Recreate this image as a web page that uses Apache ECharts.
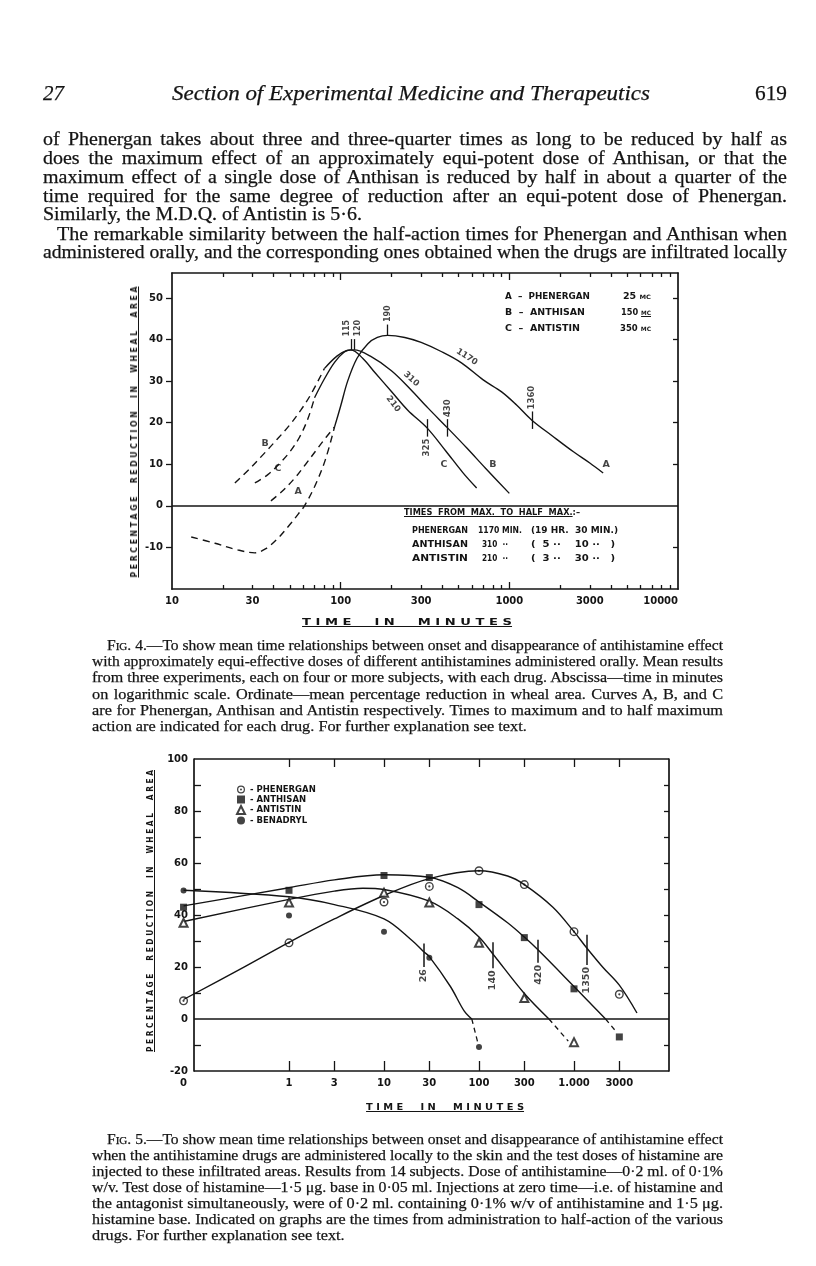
<!DOCTYPE html>
<html>
<head>
<meta charset="utf-8">
<title>Fig. 4 and Fig. 5 — antihistamine time relationships</title>
<script src="https://cdn.jsdelivr.net/npm/echarts@6/dist/echarts.min.js"></script>
<style>
  html, body { margin:0; padding:0; background:#fff; }
  #page { position:relative; width:816px; height:1266px; overflow:hidden; background:#fff; }
  #chart { position:absolute; left:0; top:0; width:816px; height:1266px; }
  .t { position:absolute; white-space:pre; color:#141414; }
  .serifbody { -webkit-text-stroke:0.25px #141414; }
  small { font-size:70%; }
</style>
</head>
<body>
<div id="page"><div id="chart"></div></div>
<script>
// ====================== DATA ======================
// Fig. 4 — oral doses. x: time in minutes (log scale), y: mean % reduction in wheal area
const fig4XTickLabels = [10, 30, 100, 300, 1000, 3000, 10000];
const fig4XMajorTicks = [100, 1000];
const fig4XMinorTicks = [20,30,40,50,60,70,80,90,200,300,400,500,600,700,800,900,2000,3000,4000,5000,6000,7000,8000,9000];
const fig4YTickLabels = [-10, 0, 10, 20, 30, 40, 50];
const fig4YRightTicks = [-10, 10, 20, 30, 40, 50];

// Curve A — Phenergan 25 mg
const phenerganOralRiseDashed = [[38.6,1.2],[45,3.5],[53,6.5],[62,10],[72,13.5],[82,16.5],[92,19]];
const phenerganOralDipDashed  = [[13,-7.5],[18,-9],[24,-10.5],[31,-11.3],[36,-10.3],[42,-8],[50,-4.5],[56,-2],[61,0],[70,4.6],[81,11],[92,19]];
const phenerganOralCurve = [[92,19],[100,24],[110,30],[125,35.5],[145,39],[165,40.5],[190,41],[240,40.5],[300,39.3],[400,37],[520,34.4],[700,30.3],[900,27.4],[1100,24.3],[1360,20.6],[1800,16.8],[2400,13],[3000,10.3],[3600,7.9]];
// Curve B — Anthisan 150 mg
const anthisanOralRiseDashed = [[23.6,5.5],[29,9],[35,12.5],[42,16],[50,19.5],[58,23],[67,27],[80,33]];
const anthisanOralCurve = [[80,33],[95,36],[108,37.3],[120,37.5],[150,36],[200,32.5],[260,28],[330,23.5],[430,18.75],[560,13.9],[720,9.1],[1000,3]];
// Curve C — Antistin 350 mg
const antistinOralRiseDashed = [[31,5.5],[37,7.5],[43,10],[50,13],[57,16.5],[64,21],[70,26]];
const antistinOralCurve = [[70,26],[80,30.5],[92,34.5],[105,37],[115,37.5],[135,35.5],[160,32],[200,27.5],[250,23],[325,18.75],[420,13.2],[530,8],[640,4.3]];

// times to maximum (C, B, A) and to half maximum (C, B, A)
const fig4MaxMinutes = [115, 120, 190];
const fig4MaxLevels  = [37.5, 37.5, 41];
const fig4HalfMinutes = [325, 430, 1360];
const fig4HalfLevels  = [18.75, 18.75, 20.6];
const fig4HalfSpanText = ['210', '310', '1170'];
const fig4HalfSpanAt   = [[205, 24.5], [262, 30.5], [560, 35.8]];
const fig4CurveLetters  = ['A', 'B', 'C', 'A', 'B', 'C'];
const fig4CurveLetterAt = [[3750, 10], [800, 10], [410, 10], [56, 3.4], [35.6, 15.1], [42.5, 8.9]];

// Fig. 5 — local infiltration. x: time in minutes (0, then log scale), y: % reduction
const fig5XTicks    = [1, 3, 10, 30, 100, 300, 1000, 3000];
const fig5XTickText = ['1', '3', '10', '30', '100', '300', '1.000', '3000'];
const fig5YTickLabels = [-20, 0, 20, 40, 60, 80, 100];
const fig5YTicks = [-10, 10, 20, 30, 40, 50, 60, 70, 80, 90];

const phenerganPoints = [[0,7],[1,29.3],[10,45],[30,51],[100,57],[300,51.7],[1000,33.6],[3000,9.5]];
const anthisanPoints  = [[0,43],[1,49.5],[10,55.2],[30,54.4],[100,44],[300,31.3],[1000,11.6],[3000,-6.9]];
const antistinPoints  = [[0,37],[1,44.8],[10,48.6],[30,44.8],[100,29.3],[300,8.1],[1000,-8.9]];
const benadrylPoints  = [[0,49.4],[1,39.8],[10,33.6],[30,23.6],[100,-10.8]];

const phenerganLocalCurve = [[0,7.5],[0.3,19],[1,29.5],[3,38.5],[10,47.5],[30,54],[100,57],[200,55],[300,51.7],[600,43],[1000,33.6],[1350,27.5],[2000,20],[3000,13],[4600,2.3]];
const anthisanLocalCurve  = [[0,43.5],[1,50.5],[3,53.5],[10,55.5],[30,54.5],[60,50.5],[100,45],[200,37],[300,31.5],[420,26.5],[1000,12.5],[2150,0]];
const anthisanLocalTail   = [[2150,0],[2800,-5]];
const antistinLocalCurve  = [[0,37.5],[1,46],[3,49.2],[6,50.3],[10,49.8],[30,45.3],[60,38.5],[100,31.5],[140,25],[300,9.8],[545,0]];
const antistinLocalTail   = [[545,0],[870,-8.5]];
const benadrylLocalCurve  = [[0,49.5],[1,47],[3,44],[10,38.5],[20,30],[26,26],[30,24],[50,12.5],[70,3],[84,0]];
const benadrylLocalTail   = [[84,0],[97,-9]];

// times from administration to half-action (Benadryl, Antistin, Anthisan, Phenergan)
const fig5HalfMinutes    = [26, 140, 420, 1350];
const fig5HalfTickTop    = [29, 29.5, 30.5, 32.4];
const fig5HalfTickBottom = [20, 19.5, 21.6, 20.8];

// ====================== HELPERS ======================
const INK = '#141414';
const SANS = '"DejaVu Sans", sans-serif';
const SERIF = '"Liberation Serif", "DejaVu Serif", serif';
const T0_POS = -1.11;        // log-position where time 0 is drawn on Fig. 5
const F5_LEFT = -1;          // log-position of Fig. 5's left frame (0.1 min)
const F5_RIGHT = 4;          // log-position of Fig. 5's right frame (10000 min)
const lg = t => Math.log10(t);
const pos5 = t => (t === 0 ? T0_POS : Math.log10(t));
const xy4 = a => a.map(([t, v]) => [lg(t), v]);
const xy5 = a => a.map(([t, v]) => [pos5(t), v]);

const solid = {color: INK, width: 1.4, type: 'solid'};
const dashed4 = {color: INK, width: 1.4, type: [7, 5]};
const dashed5 = {color: INK, width: 1.3, type: [5, 4]};

function curve(name, data, style, onFig5, extra) {
  return Object.assign({
    name, type: 'line', data, smooth: 0.35, showSymbol: false, symbol: 'none',
    lineStyle: style, silent: true, clip: false, animation: false,
    xAxisIndex: onFig5 ? 4 : 0, yAxisIndex: onFig5 ? 2 : 0, z: 3
  }, extra || {});
}
const labelBase = {show: true, color: INK, fontFamily: SANS, fontSize: 8.5, fontWeight: 'bold'};

// ---- Fig. 4 annotations ----
const fig4LabelData = [];
// label offsets are in the rotated text frame: [along text, across text]
fig4MaxMinutes.forEach((t, i) => fig4LabelData.push({
  value: [lg(t), fig4MaxLevels[i] + 3.2],
  label: Object.assign({}, labelBase, {formatter: String(t), rotate: 90, align: 'left', verticalAlign: 'middle',
    fontSize: 8, offset: [0, i === 0 ? -4 : (i === 1 ? 4 : 0)]})
}));
fig4HalfMinutes.forEach((t, i) => fig4LabelData.push({
  value: [lg(t), i === 0 ? fig4HalfLevels[i] - 2.6 : fig4HalfLevels[i] + 2.6],
  label: Object.assign({}, labelBase, {formatter: String(t), rotate: 90, align: i === 0 ? 'right' : 'left', verticalAlign: 'middle'})
}));
const spanRot = [-52, -42, -33];
fig4HalfSpanText.forEach((s, i) => fig4LabelData.push({
  value: [lg(fig4HalfSpanAt[i][0]), fig4HalfSpanAt[i][1]],
  label: Object.assign({}, labelBase, {formatter: s, rotate: spanRot[i], align: 'center', verticalAlign: 'middle'})
}));
fig4CurveLetters.forEach((c, i) => fig4LabelData.push({
  value: [lg(fig4CurveLetterAt[i][0]), fig4CurveLetterAt[i][1]],
  label: Object.assign({}, labelBase, {formatter: c, fontSize: 9.5, align: 'center', verticalAlign: 'middle'})
}));
const fig4TickLines = [];
fig4MaxMinutes.forEach((t, i) => fig4TickLines.push([{coord: [lg(t), fig4MaxLevels[i]]}, {coord: [lg(t), fig4MaxLevels[i] + 2.6]}]));
fig4HalfMinutes.forEach((t, i) => fig4TickLines.push([{coord: [lg(t), fig4HalfLevels[i] - 2.1]}, {coord: [lg(t), fig4HalfLevels[i] + 2.1]}]));

// ---- Fig. 5 annotations ----
const fig5LabelData = fig5HalfMinutes.map((t, i) => ({
  value: [lg(t), fig5HalfTickBottom[i] - 0.8],
  label: Object.assign({}, labelBase, {fontSize: 9.5, formatter: String(t), rotate: 90, align: 'right', verticalAlign: 'middle'})
}));
const fig5TickLines = fig5HalfMinutes.map((t, i) => [{coord: [lg(t), fig5HalfTickBottom[i]]}, {coord: [lg(t), fig5HalfTickTop[i]]}]);
const fig5Frame = [
  [{coord: [F5_LEFT, 100]}, {coord: [F5_RIGHT, 100]}],
  [{coord: [F5_LEFT, -20]}, {coord: [F5_RIGHT, -20]}],
  [{coord: [F5_LEFT, 0]}, {coord: [F5_RIGHT, 0]}]
];
const fig5XLabelPos = [T0_POS].concat(fig5XTicks.map(lg));
const fig5XLabelText = ['0'].concat(fig5XTickText);

const ringDot = 'path://M50,2A48,48,0,1,1,49.9,2Z M50,17A33,33,0,1,0,50.1,17Z M50,38A12,12,0,1,1,49.9,38Z';

// ====================== CHART ======================
const chart = echarts.init(document.getElementById('chart'), null, {renderer: 'canvas', width: 816, height: 1266});
const axisLineStyle = {color: INK, width: 1.7};
const tickStyle = {color: INK, width: 1.3};
const noSplit = {show: false};
const lineOn = {show: true, onZero: false, lineStyle: axisLineStyle};
const lineOff = {show: false, onZero: false};
const tickFont = {color: INK, fontFamily: SANS, fontWeight: 'bold'};

// Fig. 5 plot area: frame from x=194 to 669; time 0 is drawn a little left of the frame
const F5_FRAME_L = 194, F5_FRAME_R = 669;
const f5PxPerDecade = (F5_FRAME_R - F5_FRAME_L) / (F5_RIGHT - F5_LEFT);
const f5GridLeft = F5_FRAME_L - (F5_LEFT - T0_POS) * f5PxPerDecade;

const option = {
  animation: false,
  backgroundColor: 'transparent',
  textStyle: {fontFamily: SANS, color: INK},
  grid: [
    {left: 172, top: 273, width: 506, height: 316},
    {left: f5GridLeft, top: 759, width: F5_FRAME_R - f5GridLeft, height: 312}
  ],
  legend: {
    data: ['Phenergan', 'Anthisan', 'Antistin', 'Benadryl'],
    orient: 'vertical', left: 236, top: 785, padding: 0,
    itemWidth: 8, itemHeight: 8, itemGap: 1, selectedMode: false,
    textStyle: {fontFamily: SANS, fontSize: 8.5, fontWeight: 'bold', color: INK, lineHeight: 9},
    formatter: n => '- ' + n.toUpperCase()
  },
  xAxis: [
    {gridIndex: 0, type: 'value', min: 1, max: 4, position: 'bottom', splitLine: noSplit, axisLine: lineOn,
      axisTick: {show: true, inside: true, length: 7, customValues: fig4XMajorTicks.map(lg), lineStyle: tickStyle},
      axisLabel: Object.assign({show: true, customValues: fig4XTickLabels.map(lg), formatter: v => String(Math.round(Math.pow(10, v))),
        margin: 7, fontSize: 10, alignMaxLabel: 'right'}, tickFont)},
    {gridIndex: 0, type: 'value', min: 1, max: 4, position: 'bottom', splitLine: noSplit, axisLine: lineOff, axisLabel: {show: false},
      axisTick: {show: true, inside: true, length: 4, customValues: fig4XMinorTicks.map(lg), lineStyle: tickStyle}},
    {gridIndex: 0, type: 'value', min: 1, max: 4, position: 'top', splitLine: noSplit, axisLine: lineOn, axisLabel: {show: false},
      axisTick: {show: true, inside: true, length: 7, customValues: fig4XMajorTicks.map(lg), lineStyle: tickStyle}},
    {gridIndex: 0, type: 'value', min: 1, max: 4, position: 'top', splitLine: noSplit, axisLine: lineOff, axisLabel: {show: false},
      axisTick: {show: true, inside: true, length: 4, customValues: fig4XMinorTicks.map(lg), lineStyle: tickStyle}},
    {gridIndex: 1, type: 'value', min: T0_POS, max: F5_RIGHT, position: 'bottom', splitLine: noSplit, axisLine: lineOff,
      axisTick: {show: true, inside: true, length: 10, customValues: fig5XTicks.map(lg), lineStyle: tickStyle},
      axisLabel: Object.assign({show: true, customValues: fig5XLabelPos, margin: 7, fontSize: 10,
        formatter: v => { const i = fig5XLabelPos.findIndex(p => Math.abs(p - v) < 1e-6); return i >= 0 ? fig5XLabelText[i] : ''; }}, tickFont)},
    {gridIndex: 1, type: 'value', min: T0_POS, max: F5_RIGHT, position: 'top', splitLine: noSplit, axisLine: lineOff, axisLabel: {show: false},
      axisTick: {show: true, inside: true, length: 8, customValues: fig5XTicks.map(lg), lineStyle: tickStyle}}
  ],
  yAxis: [
    {gridIndex: 0, type: 'value', min: -20, max: 56, position: 'left', splitLine: noSplit, axisLine: lineOn,
      axisTick: {show: true, inside: false, length: 6, customValues: fig4YTickLabels, lineStyle: tickStyle},
      axisLabel: Object.assign({show: true, customValues: fig4YTickLabels, margin: 9, fontSize: 10}, tickFont)},
    {gridIndex: 0, type: 'value', min: -20, max: 56, position: 'right', splitLine: noSplit, axisLine: lineOn, axisLabel: {show: false},
      axisTick: {show: true, inside: true, length: 5, customValues: fig4YRightTicks, lineStyle: tickStyle}},
    {gridIndex: 1, type: 'value', min: -20, max: 100, position: 'left', offset: f5GridLeft - F5_FRAME_L,
      splitLine: noSplit, axisLine: lineOn,
      axisTick: {show: true, inside: true, length: 7, customValues: fig5YTicks, lineStyle: tickStyle},
      axisLabel: Object.assign({show: true, customValues: fig5YTickLabels, margin: 6, fontSize: 10}, tickFont)},
    {gridIndex: 1, type: 'value', min: -20, max: 100, position: 'right', splitLine: noSplit, axisLine: lineOn, axisLabel: {show: false},
      axisTick: {show: true, inside: true, length: 5, customValues: fig5YTicks, lineStyle: tickStyle}}
  ],
  series: [
    // ----- Fig. 4 -----
    curve('A Phenergan (oral)', xy4(phenerganOralCurve), solid, false, {
      markLine: {silent: true, symbol: ['none', 'none'], label: {show: false}, animation: false,
        lineStyle: {color: INK, width: 1.6, type: 'solid'}, data: [{yAxis: 0}]}
    }),
    curve('A Phenergan rise', xy4(phenerganOralRiseDashed), dashed4, false),
    curve('A Phenergan dip', xy4(phenerganOralDipDashed), dashed4, false),
    curve('B Anthisan (oral)', xy4(anthisanOralCurve), solid, false),
    curve('B Anthisan rise', xy4(anthisanOralRiseDashed), dashed4, false),
    curve('C Antistin (oral)', xy4(antistinOralCurve), solid, false),
    curve('C Antistin rise', xy4(antistinOralRiseDashed), dashed4, false),
    {name: 'fig4 notes', type: 'scatter', xAxisIndex: 0, yAxisIndex: 0, symbolSize: 0, silent: true,
      data: fig4LabelData, animation: false, z: 5,
      markLine: {silent: true, symbol: ['none', 'none'], label: {show: false}, animation: false,
        lineStyle: {color: INK, width: 1.3, type: 'solid'}, data: fig4TickLines}},
    // ----- Fig. 5 -----
    curve('Phenergan curve', xy5(phenerganLocalCurve), solid, true, {
      markLine: {silent: true, symbol: ['none', 'none'], label: {show: false}, animation: false,
        lineStyle: {color: INK, width: 1.7, type: 'solid'}, data: fig5Frame}
    }),
    curve('Anthisan curve', xy5(anthisanLocalCurve), solid, true),
    curve('Anthisan tail', xy5(anthisanLocalTail), dashed5, true, {smooth: false}),
    curve('Antistin curve', xy5(antistinLocalCurve), solid, true),
    curve('Antistin tail', xy5(antistinLocalTail), dashed5, true, {smooth: false}),
    curve('Benadryl curve', xy5(benadrylLocalCurve), solid, true),
    curve('Benadryl tail', xy5(benadrylLocalTail), dashed5, true, {smooth: false}),
    {name: 'Phenergan', type: 'scatter', xAxisIndex: 4, yAxisIndex: 2, clip: false, silent: true, z: 6,
      symbol: ringDot, symbolSize: 9, itemStyle: {color: INK}, data: xy5(phenerganPoints)},
    {name: 'Anthisan', type: 'scatter', xAxisIndex: 4, yAxisIndex: 2, clip: false, silent: true, z: 6,
      symbol: 'rect', symbolSize: 7, itemStyle: {color: INK}, data: xy5(anthisanPoints)},
    {name: 'Antistin', type: 'scatter', xAxisIndex: 4, yAxisIndex: 2, clip: false, silent: true, z: 6,
      symbol: 'emptyTriangle', symbolSize: 8, itemStyle: {color: INK, borderColor: INK, borderWidth: 1.3}, data: xy5(antistinPoints)},
    {name: 'Benadryl', type: 'scatter', xAxisIndex: 4, yAxisIndex: 2, clip: false, silent: true, z: 6,
      symbol: 'circle', symbolSize: 6, itemStyle: {color: INK}, data: xy5(benadrylPoints)},
    {name: 'fig5 notes', type: 'scatter', xAxisIndex: 4, yAxisIndex: 2, symbolSize: 0, silent: true, clip: false, z: 5,
      data: fig5LabelData,
      markLine: {silent: true, symbol: ['none', 'none'], label: {show: false}, animation: false,
        lineStyle: {color: INK, width: 1.5, type: 'solid'}, data: fig5TickLines}}
  ]
};
chart.setOption(option);

// ====================== PAGE TEXT ======================
const page = document.getElementById('page');
function addText(html, o) {
  const d = document.createElement('div');
  d.className = 't' + (o.cls ? ' ' + o.cls : '');
  d.innerHTML = html;
  const lh = o.lh || Math.round(o.size * 1.15);
  Object.assign(d.style, {fontFamily: o.family || SERIF, fontSize: o.size + 'px', lineHeight: lh + 'px'});
  if (o.italic) d.style.fontStyle = 'italic';
  if (o.weight) d.style.fontWeight = o.weight;
  if (o.ls != null) d.style.letterSpacing = o.ls + 'px';
  if (o.underline) d.style.textDecoration = 'underline';
  page.appendChild(d);
  const r = d.getBoundingClientRect();
  const nat = r.width, h = r.height;
  if (o.cx != null) {
    const s = o.len / nat;
    d.style.left = (o.cx - nat / 2) + 'px';
    d.style.top = (o.cy - h / 2) + 'px';
    d.style.transformOrigin = '50% 50%';
    d.style.transform = (o.rotate ? `rotate(${o.rotate}deg) ` : '') + `scaleX(${s})`;
    return d;
  }
  d.style.left = o.x + 'px';
  d.style.top = (o.y - h / 2) + 'px';
  d.style.transformOrigin = '0 50%';
  if (o.mode === 'fit') {
    d.style.transform = `scaleX(${o.w / nat})`;
  } else if (o.mode === 'justify' || o.mode === 'stretch') {
    let s = o.stretch || 1, clamp = false;
    if (nat * s > o.w) { s = o.w / nat; clamp = true; }
    if (o.mode === 'justify' && !clamp) {
      d.style.whiteSpace = 'normal';
      d.style.width = (o.w / s) + 'px';
      d.style.textAlign = 'justify';
      d.style.textAlignLast = 'justify';
    }
    d.style.transform = `scaleX(${s})`;
  }
  return d;
}

// running head
addText('27', {x: 43, y: 93, size: 21, italic: true, cls: 'serifbody'});
addText('Section of Experimental Medicine and Therapeutics', {x: 172, y: 93, size: 21, italic: true, mode: 'fit', w: 478, cls: 'serifbody'});
addText('619', {x: 755, y: 93, size: 21, mode: 'fit', w: 32, cls: 'serifbody'});

// body text
const body = [
  ['of Phenergan takes about three and three-quarter times as long to be reduced by half as', 43, 744, 139, 'justify'],
  ['does the maximum effect of an approximately equi-potent dose of Anthisan, or that the', 43, 744, 158, 'justify'],
  ['maximum effect of a single dose of Anthisan is reduced by half in about a quarter of the', 43, 744, 177, 'justify'],
  ['time required for the same degree of reduction after an equi-potent dose of Phenergan.', 43, 744, 196, 'justify'],
  ['Similarly, the M.D.Q. of Antistin is 5·6.', 43, 744, 214, 'stretch'],
  ['The remarkable similarity between the half-action times for Phenergan and Anthisan when', 57, 730, 234, 'justify'],
  ['administered orally, and the corresponding ones obtained when the drugs are infiltrated locally', 43, 744, 252, 'justify']
];
body.forEach(([t, x, w, y, m]) => addText(t, {x, y, w, size: 18.5, lh: 19, mode: m, stretch: 1.08, cls: 'serifbody'}));

const sc = s => `<span style="font-variant:small-caps">${s}</span>`;
const cap4 = [
  [`F${sc('ig')}. 4.—To show mean time relationships between onset and disappearance of antihistamine effect`, 107, 616, 645, 'justify'],
  ['with approximately equi-effective doses of different antihistamines administered orally. Mean results', 92, 631, 661, 'justify'],
  ['from three experiments, each on four or more subjects, with each drug. Abscissa—time in minutes', 92, 631, 677, 'justify'],
  ['on logarithmic scale. Ordinate—mean percentage reduction in wheal area. Curves A, B, and C', 92, 631, 694, 'justify'],
  ['are for Phenergan, Anthisan and Antistin respectively. Times to maximum and to half maximum', 92, 631, 710, 'justify'],
  ['action are indicated for each drug. For further explanation see text.', 92, 631, 726, 'stretch']
];
const cap5 = [
  [`F${sc('ig')}. 5.—To show mean time relationships between onset and disappearance of antihistamine effect`, 107, 616, 1139, 'justify'],
  ['when the antihistamine drugs are administered locally to the skin and the test doses of histamine are', 92, 631, 1155, 'justify'],
  ['injected to these infiltrated areas. Results from 14 subjects. Dose of antihistamine—0·2 ml. of 0·1%', 92, 631, 1171, 'justify'],
  ['w/v. Test dose of histamine—1·5 μg. base in 0·05 ml. Injections at zero time—i.e. of histamine and', 92, 631, 1187, 'justify'],
  ['the antagonist simultaneously, were of 0·2 ml. containing 0·1% w/v of antihistamine and 1·5 μg.', 92, 631, 1203, 'justify'],
  ['histamine base. Indicated on graphs are the times from administration to half-action of the various', 92, 631, 1219, 'justify'],
  ['drugs. For further explanation see text.', 92, 631, 1235, 'stretch']
];
cap4.concat(cap5).forEach(([t, x, w, y, m]) => addText(t, {x, y, w, size: 15.5, lh: 16, mode: m, stretch: 1.05, cls: 'serifbody'}));

// chart lettering (hand-lettered style)
const L = {family: SANS, size: 8.5, weight: 'bold'};
addText('A  –  PHENERGAN', Object.assign({x: 505, y: 296, mode: 'fit', w: 85}, L));
addText('B  –  ANTHISAN',  Object.assign({x: 505, y: 312, mode: 'fit', w: 80}, L));
addText('C  –  ANTISTIN',  Object.assign({x: 505, y: 328, mode: 'fit', w: 75}, L));
addText('25 <small>MC</small>',  Object.assign({x: 623, y: 296, mode: 'fit', w: 28}, L));
addText('150 <u><small>MC</small></u>', Object.assign({x: 621, y: 312, mode: 'fit', w: 30}, L));
addText('350 <small>MC</small>', Object.assign({x: 620, y: 328, mode: 'fit', w: 31}, L));

addText('<u>TIMES  FROM  MAX.  TO  HALF  MAX.</u>:–', Object.assign({x: 404, y: 512, mode: 'fit', w: 176}, L));
addText('PHENERGAN', Object.assign({x: 412, y: 530, mode: 'fit', w: 56}, L));
addText('ANTHISAN',  Object.assign({x: 412, y: 544, mode: 'fit', w: 56}, L));
addText('ANTISTIN',  Object.assign({x: 412, y: 558, mode: 'fit', w: 56}, L));
addText('1170 MIN.', Object.assign({x: 478, y: 530, mode: 'fit', w: 44}, L));
addText('310  ··',   Object.assign({x: 482, y: 544, mode: 'fit', w: 26}, L));
addText('210  ··',   Object.assign({x: 482, y: 558, mode: 'fit', w: 26}, L));
addText('(19 HR.  30 MIN.)', Object.assign({x: 531, y: 530, mode: 'fit', w: 87}, L));
addText('(  5 ··    10 ··   )', Object.assign({x: 531, y: 544, mode: 'fit', w: 84}, L));
addText('(  3 ··    30 ··   )', Object.assign({x: 531, y: 558, mode: 'fit', w: 84}, L));

// axis titles
const T = {family: SANS, size: 8.5, weight: 'bold', underline: true};
addText('T I M E     I N     M I N U T E S', Object.assign({cx: 407, cy: 622, len: 210}, T));
addText('T I M E     I N     M I N U T E S', Object.assign({cx: 445, cy: 1107, len: 158}, T));
addText('P E R C E N T A G E     R E D U C T I O N     I N     W H E A L     A R E A',
  Object.assign({cx: 134, cy: 432, len: 291, rotate: -90}, T));
addText('P E R C E N T A G E     R E D U C T I O N     I N     W H E A L     A R E A',
  Object.assign({cx: 150, cy: 911, len: 282, rotate: -90}, T));
</script>
</body>
</html>
